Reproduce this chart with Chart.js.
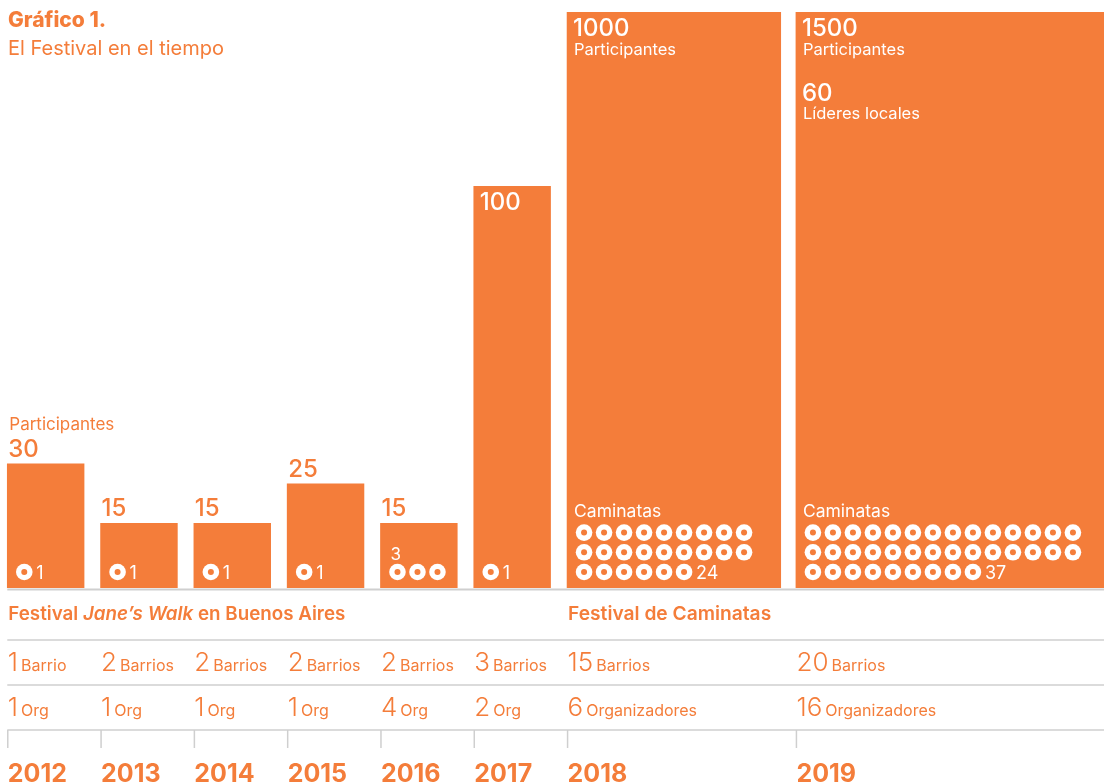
<!DOCTYPE html>
<html lang="es">
<head>
<meta charset="utf-8">
<title>Gráfico 1. El Festival en el tiempo</title>
<script src="https://cdn.jsdelivr.net/npm/chart.js@4.4.1/dist/chart.umd.min.js"></script>
<style>
  html, body { margin: 0; padding: 0; background: #fff; }
  #wrap { width: 1104px; height: 783px; position: relative; }
</style>
</head>
<body>
<div id="wrap"><canvas id="chart"></canvas></div>
<script>
// Values
const years = ['2012', '2013', '2014', '2015', '2016', '2017', '2018', '2019'];
const participantes = [30, 15, 15, 25, 15, 100, 1000, 1500];
const caminatas = [1, 1, 1, 1, 3, 1, 24, 37];
const lideresLocales = [null, null, null, null, null, null, null, 60];
const barrios = [1, 2, 2, 2, 2, 3, 15, 20];
const organizadores = [1, 1, 1, 1, 4, 2, 6, 16];

// Layout only: where each column starts / how wide it is (in narrow-column units)
const colStart = [0, 1, 2, 3, 4, 5, 6, 8.453];
const colWidth = [0.823, 0.823, 0.823, 0.823, 0.823, 0.823, 2.29, 3.30];
const circlesPerRow = [3, 3, 3, 3, 3, 3, 9, 14];
const countAbove = [false, false, false, false, true, false, false, false];
const showPartLabel = [true, false, false, false, false, false, true, true];

const X_MIN = -0.078, X_MAX = 11.755;
const Y_MIN = -1.3, Y_MAX = 144;
const UNIT = 1104 / (X_MAX - X_MIN);

const ORANGE = '#F47D3A';
const GRID = '#cfcfcf';
const FONT = 'Inter, "Noto Sans", sans-serif';

function txt(ctx, s, x, y, size, weight, color, style) {
    ctx.font = `${style || 'normal'} ${weight} ${size}px ${FONT}`;
    ctx.fillStyle = color;
    ctx.fillText(s, x, y);
    return ctx.measureText(s).width;
}

function hline(ctx, y, x0, x1, w) {
    ctx.beginPath();
    ctx.strokeStyle = GRID;
    ctx.lineWidth = w;
    ctx.moveTo(x0, y);
    ctx.lineTo(x1, y);
    ctx.stroke();
}

const labelsPlugin = {
    id: 'festivalLabels',
    afterDatasetsDraw(chart) {
        const { ctx, chartArea: area, scales: { x, y } } = chart;
        ctx.save();
        ctx.textBaseline = 'alphabetic';
        ctx.textAlign = 'left';

        // Title
        txt(ctx, 'Gráfico 1.', 8, 27, 21, '800', ORANGE);
        txt(ctx, 'El Festival en el tiempo', 8, 55, 20, 'normal', ORANGE);

        const lefts = colStart.map(v => x.getPixelForValue(v));

        years.forEach((yr, i) => {
            const left = lefts[i];
            const top = Math.max(y.getPixelForValue(participantes[i]), area.top);
            const h = area.bottom - top;

            // Participant numbers
            if (h > 200) {
                txt(ctx, String(participantes[i]), left + 6, top + 24, 24, '500', '#fff');
                if (showPartLabel[i]) txt(ctx, 'Participantes', left + 7, top + 43, 16.5, 'normal', '#fff');
                if (lideresLocales[i] != null) {
                    txt(ctx, String(lideresLocales[i]), left + 6, top + 89, 24, '500', '#fff');
                    txt(ctx, 'Líderes locales', left + 7, top + 107, 16.5, 'normal', '#fff');
                }
            } else {
                txt(ctx, String(participantes[i]), left + 1, top - 7, 24, '500', ORANGE);
                if (showPartLabel[i]) txt(ctx, 'Participantes', left + 2, top - 34, 17, 'normal', ORANGE);
            }

            // Caminatas as rings
            const n = caminatas[i], per = circlesPerRow[i];
            const rows = Math.ceil(n / per);
            const rowGap = 19.7, pitch = 20, cx0 = left + 17, bottomY = area.bottom - 16;
            for (let k = 0; k < n; k++) {
                const r = Math.floor(k / per), c = k % per;
                const cy = bottomY - (rows - 1 - r) * rowGap;
                const cx = cx0 + c * pitch;
                ctx.beginPath();
                ctx.fillStyle = '#fff';
                ctx.arc(cx, cy, 8.3, 0, Math.PI * 2);
                ctx.fill();
                ctx.beginPath();
                ctx.fillStyle = ORANGE;
                ctx.arc(cx, cy, 3, 0, Math.PI * 2);
                ctx.fill();
            }
            if (countAbove[i]) {
                txt(ctx, String(n), left + 10, bottomY - 12, 17, 'normal', '#fff');
            } else {
                const lastC = (n - 1) % per;
                txt(ctx, String(n), cx0 + lastC * pitch + 12, bottomY + 6.5, 18, 'normal', '#fff');
            }
            if (rows > 1) {
                txt(ctx, 'Caminatas', left + 7, bottomY - (rows - 1) * rowGap - 16, 17.5, 'normal', '#fff');
            }
        });

        // Table below the bars
        const base = area.bottom;
        const x0 = lefts[0], x1 = chart.width;
        hline(ctx, base + 1.5, x0, x1, 2);

        let cx = x0 + 1;
        cx += txt(ctx, 'Festival ', cx, base + 32, 18.8, '600', ORANGE);
        cx += txt(ctx, 'Jane’s Walk', cx, base + 32, 18.8, '600', ORANGE, 'italic');
        txt(ctx, ' en Buenos Aires', cx, base + 32, 18.8, '600', ORANGE);
        txt(ctx, 'Festival de Caminatas', lefts[6] + 1, base + 32, 19.2, '600', ORANGE);

        hline(ctx, base + 52, x0, x1, 1.5);
        hline(ctx, base + 97, x0, x1, 1.5);
        hline(ctx, base + 142, x0, x1, 1.5);

        years.forEach((yr, i) => {
            const left = lefts[i] + 0.5;
            let w = txt(ctx, String(barrios[i]), left, base + 83, 26, '300', ORANGE);
            txt(ctx, barrios[i] === 1 ? 'Barrio' : 'Barrios', left + w + 3, base + 83, 16, 'normal', ORANGE);
            w = txt(ctx, String(organizadores[i]), left, base + 128, 26, '300', ORANGE);
            txt(ctx, colWidth[i] > 1 ? 'Organizadores' : 'Org', left + w + 3, base + 128, 16, 'normal', ORANGE);

            ctx.beginPath();
            ctx.strokeStyle = GRID;
            ctx.lineWidth = 1.5;
            ctx.moveTo(lefts[i] + 0.5, base + 142);
            ctx.lineTo(lefts[i] + 0.5, base + 160);
            ctx.stroke();

            txt(ctx, yr, left, base + 194, 25, 'bold', ORANGE);
        });
        ctx.restore();
    }
};

const datasets = years.map((yr, i) => ({
    label: yr,
    data: [{ x: colStart[i] + colWidth[i] / 2, y: participantes[i] }],
    base: Y_MIN,
    backgroundColor: ORANGE,
    borderWidth: 0,
    barThickness: colWidth[i] * UNIT,
    grouped: false,
    clip: 0
}));

new Chart(document.getElementById('chart'), {
    type: 'bar',
    data: { datasets },
    options: {
        responsive: true,
        maintainAspectRatio: false,
        animation: false,
        layout: { padding: { top: 12, bottom: 195, left: 0, right: 0 } },
        scales: {
            x: { type: 'linear', min: X_MIN, max: X_MAX, offset: false, display: false },
            y: { type: 'linear', min: Y_MIN, max: Y_MAX, display: false }
        },
        plugins: {
            legend: { display: false },
            tooltip: { enabled: false }
        }
    },
    plugins: [labelsPlugin]
});
</script>
</body>
</html>
